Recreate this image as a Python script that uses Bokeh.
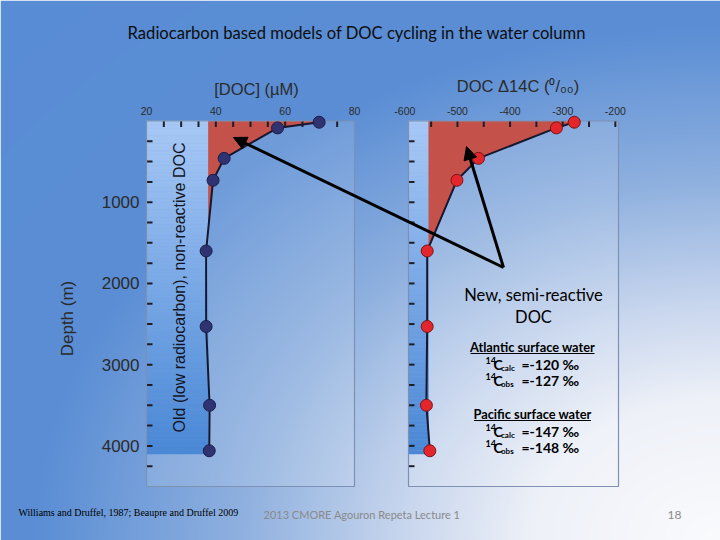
import numpy as np
from bokeh.plotting import figure
from bokeh.models import Range1d, Arrow, NormalHead
from bokeh.core.properties import value
from bokeh.embed import file_html
from bokeh.resources import INLINE

W, H = 720, 540

# ---------------- data ----------------
depth_m = [15, 85, 460, 730, 1600, 2530, 3500, 4060]
doc_um = [69.8, 57.8, 42.4, 39.2, 37.2, 37.2, 38.2, 38.1]
d14c_permil = [-278, -312, -460, -501, -557.5, -557.5, -559, -552.5]

old_doc_um = 37.8          # refractory (old) DOC background
old_d14c_permil = -555     # refractory (old) DOC radiocarbon
old_bottom_m = 4100

doc_major = [20, 40, 60, 80]
doc_minor = list(range(25, 80, 5))
d14c_major = [-600, -500, -400, -300, -200]
d14c_minor = list(range(-550, -200, 50))
depth_major = [1000, 2000, 3000, 4000]
depth_minor = list(range(250, 4500, 250))

budget_titles = ["Atlantic surface water", "Pacific surface water"]
budget_calc = ["-120", "-147"]
budget_obs = ["-127", "-148"]

# ---------------- layout (pixels on the slide, y from top) ----------------
L_PX = (146, 354)
R_PX = (408, 618)
TOP_PX, BOT_PX = 120.5, 486
DOC_LIM = (20, 80)
D14C_LIM = (-593, -194)
DEPTH_LIM = (0, 4500)


def sy(y):
    return H - y


def canvas_range(px0, px1, v0, v1, total):
    s = (v1 - v0) / (px1 - px0)
    return v0 - px0 * s, v0 + (total - px0) * s


doc_a, doc_b = canvas_range(L_PX[0], L_PX[1], DOC_LIM[0], DOC_LIM[1], W)
c14_a, c14_b = canvas_range(R_PX[0], R_PX[1], D14C_LIM[0], D14C_LIM[1], W)
dep_top, dep_bot = canvas_range(TOP_PX, BOT_PX, DEPTH_LIM[0], DEPTH_LIM[1], H)

p = figure(width=W, height=H, x_range=Range1d(0, W), y_range=Range1d(0, H),
           x_axis_type=None, y_axis_type=None, toolbar_location=None,
           output_backend="svg", min_border=0, title=None,
           outline_line_color=None)
p.extra_x_ranges = {"doc": Range1d(doc_a, doc_b), "c14": Range1d(c14_a, c14_b)}
p.extra_y_ranges = {"depth": Range1d(dep_bot, dep_top)}

# ---------------- slide background (radial wash toward lower right) ----------------
yy, xx = np.mgrid[0:H, 0:W].astype(float)
slide_y = H - 1 - yy + 0.5
dx = (W - (xx + 0.5)) / W
dy = (H - slide_y) / H
d = np.sqrt(dx ** 2 + dy ** 2)
stops = [0, 0.26, 0.44, 0.67, 0.95, 1.5]
rch = np.interp(d, stops, [250, 238, 200, 142, 91, 88])
gch = np.interp(d, stops, [251, 241, 214, 176, 142, 140])
bch = np.interp(d, stops, [253, 248, 238, 223, 213, 212])
img = np.empty((H, W), dtype=np.uint32)
view = img.view(dtype=np.uint8).reshape((H, W, 4))
view[:, :, 0] = rch.astype(np.uint8)
view[:, :, 1] = gch.astype(np.uint8)
view[:, :, 2] = bch.astype(np.uint8)
view[:, :, 3] = 255
p.image_rgba(image=[img], x=0, y=0, dw=W, dh=H)

# ---------------- panels ----------------
panels = [
    dict(xr="doc", lim=DOC_LIM, vals=doc_um, base=old_doc_um,
         major=doc_major, minor=doc_minor, fill="#2f3372", edge="#1c1e48"),
    dict(xr="c14", lim=D14C_LIM, vals=d14c_permil, base=old_d14c_permil,
         major=d14c_major, minor=d14c_minor, fill="#e2262b", edge="#7a1518"),
]

FONT = value("Liberation Sans")
TXT = "#2b2b2b"

for k, pn in enumerate(panels):
    xr = pn["xr"]
    lo, hi = pn["lim"]
    kw = dict(x_range_name=xr, y_range_name="depth")

    # light panel wash
    p.quad(left=lo, right=hi, top=DEPTH_LIM[0], bottom=DEPTH_LIM[1],
           fill_color="white", fill_alpha=0.13, line_color=None, **kw)

    # old DOC column: vertical blue gradient
    n = 90
    edges = np.linspace(0, old_bottom_m, n + 1)
    f = (edges[:-1] + edges[1:]) / 2 / old_bottom_m
    cols = ["#%02x%02x%02x" % (int(168 + (74 - 168) * t), int(201 + (136 - 201) * t),
                                int(246 + (214 - 246) * t)) for t in f]
    p.quad(left=lo, right=pn["base"], top=edges[:-1], bottom=edges[1:],
           fill_color=cols, line_color=cols, line_width=0.5, **kw)

    # new DOC: area between the profile and the old-DOC baseline
    vals, base = pn["vals"], pn["base"]
    ys, xs = [0.0], [vals[0]]
    for i in range(len(vals)):
        if vals[i] > base:
            ys.append(depth_m[i])
            xs.append(vals[i])
        else:
            t = (vals[i - 1] - base) / (vals[i - 1] - vals[i])
            ys.append(depth_m[i - 1] + t * (depth_m[i] - depth_m[i - 1]))
            xs.append(base)
            break
    p.harea(y=ys, x1=[base] * len(ys), x2=xs, fill_color="#c5514b", **kw)

    # ticks (inward)
    top_ticks = [v for v in sorted(set(pn["minor"] + pn["major"])) if lo < v < hi]
    p.ray(x=top_ticks, y=[0] * len(top_ticks), length=6, length_units="screen",
          angle=-np.pi / 2, line_color="#1e1e28", line_width=2, **kw)
    p.ray(x=[lo] * len(depth_minor), y=depth_minor, length=6, length_units="screen",
          angle=0, line_color="#1e1e28", line_width=2, **kw)

    # frame
    p.quad(left=lo, right=hi, top=DEPTH_LIM[0], bottom=DEPTH_LIM[1],
           fill_color=None, line_color="#7f91b2", line_width=1.2, **kw)

    # profile
    p.line(x=vals, y=depth_m, line_color="#15182e", line_width=2, **kw)
    p.scatter(x=vals, y=depth_m, size=12, fill_color=pn["fill"],
              line_color=pn["edge"], line_width=1, **kw)

    # top tick labels
    p.text(x=pn["major"], y=[0] * len(pn["major"]), text=[str(v) for v in pn["major"]],
           text_align="center", text_baseline="middle", y_offset=-10,
           text_font=FONT, text_font_size="10.5px", text_color=TXT, **kw)

# depth labels on the left panel
p.text(x=[DOC_LIM[0]] * len(depth_major), y=depth_major,
       text=[str(v) for v in depth_major], x_offset=-7,
       text_align="right", text_baseline="middle", text_font=FONT,
       text_font_size="17px", text_color=TXT, x_range_name="doc", y_range_name="depth")

# axis titles
p.text(x=[256], y=[sy(88)], text=["[DOC] (µM)"], text_align="center",
       text_baseline="middle", text_font=FONT, text_font_size="16.5px", text_color=TXT)
p.text(x=[517.5], y=[sy(85)], text=["DOC Δ14C (⁰/₀₀)"], text_align="center",
       text_baseline="middle", text_font=FONT, text_font_size="16.5px", text_color=TXT)
p.text(x=[66.5], y=[sy(318)], text=["Depth (m)"], angle=np.pi / 2, text_align="center",
       text_baseline="middle", text_font=FONT, text_font_size="17px", text_color=TXT)

p.text(x=[179], y=[sy(287)], text=["Old (low radiocarbon), non-reactive DOC"],
       angle=np.pi / 2, text_align="center", text_baseline="middle", text_font=FONT,
       text_font_size="16px", text_color="#141422")

# arrows pointing at the new DOC
for tip in [(233, 137), (466, 146)]:
    p.add_layout(Arrow(end=NormalHead(size=13, fill_color="black", line_color="black"),
                       x_start=503, y_start=sy(267), x_end=tip[0], y_end=sy(tip[1]),
                       line_color="black", line_width=3))

# slide title
CAL = value("Lato")
p.text(x=[356.5], y=[sy(32)], text=["Radiocarbon based models of DOC cycling in the water column"],
       text_align="center", text_baseline="middle", text_font=CAL,
       text_font_size="16.6px", text_color="#0d0d0d")

# annotation box
p.text(x=[533, 533], y=[sy(294.5), sy(316.5)], text=["New, semi-reactive", "DOC"],
       text_align="center", text_baseline="middle", text_font=CAL,
       text_font_size="16.5px", text_color="black")

block_y = [346.5, 413.5]
for j in range(2):
    y0 = block_y[j]
    p.text(x=[532], y=[sy(y0)], text=[budget_titles[j]], text_align="center",
           text_baseline="middle", text_font=CAL, text_font_style="bold",
           text_font_size="12.8px", text_color="black")
    half = 62 if j == 0 else 58.5
    p.segment(x0=[532 - half], x1=[532 + half], y0=[sy(y0 + 6.5)], y1=[sy(y0 + 6.5)],
              line_color="black", line_width=1.2)
    for m, (sub, val) in enumerate([("calc", budget_calc[j]), ("obs", budget_obs[j])]):
        ly = y0 + 17 + 16 * m
        p.text(x=[485], y=[sy(ly - 4)], text=["14"], text_align="left",
               text_baseline="middle", text_font=CAL, text_font_style="bold",
               text_font_size="9px", text_color="black")
        p.text(x=[493], y=[sy(ly)], text=["C"], text_align="left",
               text_baseline="middle", text_font=CAL, text_font_style="bold",
               text_font_size="14px", text_color="black")
        p.text(x=[500.5], y=[sy(ly + 4)], text=[sub], text_align="left",
               text_baseline="middle", text_font=CAL, text_font_style="bold",
               text_font_size="8px", text_color="black")
        p.text(x=[521], y=[sy(ly)], text=["=" + val + " ‰"], text_align="left",
               text_baseline="middle", text_font=CAL, text_font_style="bold",
               text_font_size="14px", text_color="black")

# footer
p.text(x=[18], y=[sy(512)], text=["Williams and Druffel, 1987; Beaupre and Druffel 2009"],
       text_align="left", text_baseline="middle", text_font=value("Liberation Serif"),
       text_font_size="10px", text_color="black")
p.text(x=[263], y=[sy(514)], text=["2013 CMORE Agouron Repeta Lecture 1"],
       text_align="left", text_baseline="middle", text_font=CAL,
       text_font_size="11px", text_color="#8a8a8a")
p.text(x=[674], y=[sy(514)], text=["18"], text_align="center", text_baseline="middle",
       text_font=CAL, text_font_size="12px", text_color="#8a8a8a")

open("out.html", "w").write(file_html(p, INLINE))
